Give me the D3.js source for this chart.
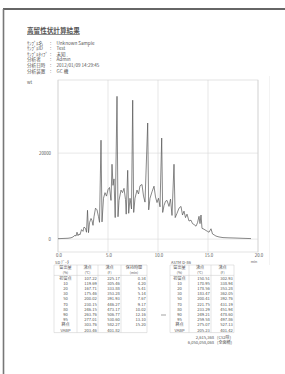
<!DOCTYPE html>
<html lang="ja">
<head>
<meta charset="UTF-8">
<title>高留性状計算結果</title>
<script src="https://d3js.org/d3.v7.min.js"></script>
<style>
  body { margin: 0; background: #fff; }
  svg text { font-family: "Noto Sans CJK JP", "DejaVu Sans", sans-serif; fill: #555; }
  .grid line { stroke: #d6d6d6; stroke-width: 0.6; }
  .tbl line { stroke: #c8c8c8; stroke-width: 0.5; }
</style>
</head>
<body>
<svg width="285" height="374"></svg>
<script>
// ---- data ----
const infoLabels = ["ｻﾝﾌﾟﾙ名", "ｻﾝﾌﾟﾙID", "ｻﾝﾌﾟﾙﾀｲﾌﾟ", "分析者", "分析日時", "分析装置"];
const infoValues = ["Unknown Sample", "Test", "未知", "Admin", "2012/01/09 14:29:45", "GC 機"];

const times = [0.0, 0.5, 1.0, 1.3, 1.5, 1.7, 1.8, 1.9, 2.0, 2.1, 2.2, 2.35, 2.5, 2.6, 2.75, 2.85, 2.95, 3.05, 3.15, 3.3,
  3.4, 3.5, 3.6, 3.75, 3.9, 4.05, 4.15, 4.3, 4.4, 4.55, 4.7, 4.85, 5.0, 5.15, 5.3, 5.4, 5.5, 5.6, 5.72, 5.9,
  6.0, 6.1, 6.3, 6.45, 6.6, 6.75, 6.82, 6.97, 7.07, 7.2, 7.35, 7.47, 7.57, 7.7, 7.9, 8.05, 8.2, 8.4, 8.55, 8.7,
  8.97, 9.07, 9.2, 9.4, 9.6, 9.75, 9.9, 10.05, 10.2, 10.37, 10.47, 10.6, 10.75, 10.9, 11.1, 11.25, 11.4, 11.6, 11.72, 11.9,
  12.1, 12.3, 12.45, 12.6, 12.75, 12.9, 13.1, 13.3, 13.45, 13.6, 13.8, 13.95, 14.1, 14.2, 14.3, 14.4, 14.6, 14.8, 14.95, 15.1,
  15.3, 15.45, 15.6, 15.8, 16.1, 16.5, 17.0, 17.7, 18.5, 19.3];
const signal = [100, 150, 200, 300, 500, 900, 700, 1600, 800, 1200, 1000, 2200, 1800, 2800, 2500, 1600, 6700, 1500, 3800, 4800,
  4300, 3200, 5200, 7200, 6800, 5200, 3900, 23000, 4000, 9500, 10800, 10000, 11500, 12000, 9000, 17400, 12500, 14000, 5000, 33200,
  5200, 9000, 11400, 10800, 11800, 9200, 5800, 16000, 6000, 9500, 7000, 32300, 6200, 9500, 11400, 10500, 12400, 12700, 10000, 8600,
  27000, 6800, 9500, 11000, 12300, 9800, 8500, 9500, 7500, 23500, 6200, 7800, 8800, 9000, 7600, 9300, 5500, 17400, 5000, 6000,
  7200, 7600, 5600, 6500, 5000, 5800, 4200, 4400, 3600, 3400, 3000, 3800, 5300, 3600, 5600, 2500, 2300, 2000, 1800, 1600,
  2400, 1200, 1000, 700, 500, 350, 300, 250, 180, 120];

const xTicks = [0, 5, 10, 15, 20];
const yTicks = [0, 20000];

const sdHead1 = ["留出量", "沸点", "沸点", "保持時間"];
const sdHead2 = ["(%)", "(℃)", "(F)", "(min)"];
const rowNames = ["初留点", "10", "20", "30", "50", "70", "80", "90", "95", "終点", "VABP"];
const sdBpC = ["107.22", "119.69", "167.71", "175.46", "200.02", "230.15", "246.15", "263.76", "277.01", "303.76", "203.46"];
const sdBpF = ["225.17", "305.46", "333.88", "353.28", "391.93", "446.27", "473.17", "506.77", "530.60", "582.27", "401.82"];
const sdRt = ["0.34", "4.20", "5.41", "5.14", "7.67", "9.17", "10.02", "12.16", "13.10", "15.20", ""];

const astmHead1 = ["留出量", "沸点", "沸点"];
const astmHead2 = ["(%)", "(℃)", "(F)"];
const astmBpC = ["150.51", "170.95", "178.56", "183.47", "200.41", "221.75", "233.29", "249.21", "259.58", "275.07", "205.23"];
const astmBpF = ["302.93", "338.94", "353.28", "362.05", "392.76", "431.19", "451.94", "478.60", "497.86", "527.13", "401.42"];

const areaValues = ["2,615,368", "6,050,058,068"];
const areaLabels = ["(CS2除)", "(全面積)"];

// ---- page frame ----
const svg = d3.select("svg");
svg.append("line").attr("x1", 3).attr("x2", 285).attr("y1", 9).attr("y2", 9)
  .attr("stroke", "#333").attr("stroke-width", 1.4);
svg.append("line").attr("x1", 3.5).attr("x2", 3.5).attr("y1", 9).attr("y2", 374)
  .attr("stroke", "#777").attr("stroke-width", 1.6);
svg.append("line").attr("x1", 269.5).attr("x2", 269.5).attr("y1", 76).attr("y2", 265)
  .attr("stroke", "#f0f0f0").attr("stroke-width", 0.8);

// ---- header ----
svg.append("text").attr("x", 27).attr("y", 33).attr("font-size", 6.6).attr("font-weight", "bold")
  .attr("text-decoration", "underline").text("高留性状計算結果");

const info = svg.append("g").attr("font-size", 4.6);
info.selectAll("text.lab").data(infoLabels).join("text").attr("class", "lab")
  .attr("x", 27).attr("y", (d, i) => 44.5 + i * 5.6).text(d => d);
info.selectAll("text.col").data(infoLabels).join("text").attr("class", "col")
  .attr("x", 50).attr("y", (d, i) => 44.5 + i * 5.6).text(":");
info.selectAll("text.val").data(infoValues).join("text").attr("class", "val")
  .attr("x", 56.5).attr("y", (d, i) => 44.5 + i * 5.6).text(d => d);

svg.append("text").attr("x", 27).attr("y", 83.5).attr("font-size", 4.4).text("wt");

// ---- chromatogram ----
const plot = {left: 58, right: 258, top: 80, bottom: 252};
const x = d3.scaleLinear().domain([0, 20]).range([plot.left, plot.right]);
const y = d3.scaleLinear().domain([-3000, 37000]).range([plot.bottom, plot.top]);

const grid = svg.append("g").attr("class", "grid");
grid.selectAll("line.v").data(xTicks).join("line").attr("class", "v")
  .attr("x1", d => x(d)).attr("x2", d => x(d)).attr("y1", plot.top).attr("y2", plot.bottom);
grid.selectAll("line.h").data(yTicks).join("line").attr("class", "h")
  .attr("x1", plot.left).attr("x2", plot.right).attr("y1", d => y(d)).attr("y2", d => y(d));
grid.append("rect").attr("x", plot.left).attr("y", plot.top)
  .attr("width", plot.right - plot.left).attr("height", plot.bottom - plot.top)
  .attr("fill", "none").attr("stroke", "#d0d0d0").attr("stroke-width", 0.6);

svg.append("g").attr("font-size", 4.3).attr("text-anchor", "end")
  .selectAll("text").data(yTicks).join("text")
  .attr("x", plot.left - 7).attr("y", d => y(d) + 1.5).text(d => d);
svg.append("g").attr("font-size", 4.3).attr("text-anchor", "middle")
  .selectAll("text").data(xTicks).join("text")
  .attr("x", d => x(d) + 1).attr("y", plot.bottom + 5.2).text(d => d3.format(".1f")(d));
svg.append("text").attr("x", 254).attr("y", plot.bottom + 11).attr("font-size", 3.6)
  .attr("text-anchor", "middle").text("min");

const trace = times.map((t, i) => [t, signal[i]]);
svg.append("path").datum(trace)
  .attr("fill", "none").attr("stroke", "#555").attr("stroke-width", 0.7)
  .attr("stroke-linejoin", "round")
  .attr("d", d3.line().x(d => x(d[0])).y(d => y(d[1])));

// ---- tables ----
function drawTable(left, widths, title, head1, head2, cols) {
  const rowH = 5.2, top = 265;
  const nRows = 2 + rowNames.length;
  const edges = [left];
  widths.forEach(w => edges.push(edges[edges.length - 1] + w));
  const g = svg.append("g").attr("class", "tbl").attr("font-size", 4.1);
  g.append("text").attr("x", left + 1).attr("y", top - 1.2).attr("font-size", 4).text(title);
  g.selectAll("line.v").data(edges).join("line").attr("class", "v")
    .attr("x1", d => d).attr("x2", d => d).attr("y1", top).attr("y2", top + nRows * rowH);
  g.selectAll("line.h").data([0, 2, nRows]).join("line").attr("class", "h")
    .attr("x1", left).attr("x2", edges[edges.length - 1])
    .attr("y1", d => top + d * rowH).attr("y2", d => top + d * rowH);
  const cx = i => (edges[i] + edges[i + 1]) / 2;
  g.selectAll("text.h1").data(head1).join("text").attr("class", "h1")
    .attr("x", (d, i) => cx(i)).attr("y", top + rowH - 0.8).attr("text-anchor", "middle").text(d => d);
  g.selectAll("text.h2").data(head2).join("text").attr("class", "h2")
    .attr("x", (d, i) => cx(i)).attr("y", top + 2 * rowH - 1.2).attr("font-size", 3.4)
    .attr("text-anchor", "middle").text(d => d);
  g.selectAll("text.rn").data(rowNames).join("text").attr("class", "rn")
    .attr("x", cx(0)).attr("y", (d, i) => top + (i + 3) * rowH - 1.1)
    .attr("text-anchor", "middle").text(d => d);
  cols.forEach((vals, c) => {
    g.selectAll("text.c" + c).data(vals).join("text").attr("class", "c" + c)
      .attr("x", edges[c + 2] - 1.2).attr("y", (d, i) => top + (i + 3) * rowH - 1.1)
      .attr("text-anchor", "end").text(d => d);
  });
}
drawTable(54, [23, 21, 23, 26], "SD ﾃﾞｰﾀ", sdHead1, sdHead2, [sdBpC, sdBpF, sdRt]);
drawTable(170, [19, 22, 23], "ASTM D-86", astmHead1, astmHead2, [astmBpC, astmBpF]);

svg.append("line").attr("x1", 161).attr("x2", 166).attr("y1", 315).attr("y2", 315)
  .attr("stroke", "#666").attr("stroke-width", 0.6);

const tot = svg.append("g").attr("font-size", 4.1);
tot.selectAll("text.v").data(areaValues).join("text").attr("class", "v")
  .attr("x", 214).attr("y", (d, i) => 339 + i * 5.4).attr("text-anchor", "end").text(d => d);
tot.selectAll("text.l").data(areaLabels).join("text").attr("class", "l")
  .attr("x", 217).attr("y", (d, i) => 339 + i * 5.4).text(d => d);
</script>
</body>
</html>
